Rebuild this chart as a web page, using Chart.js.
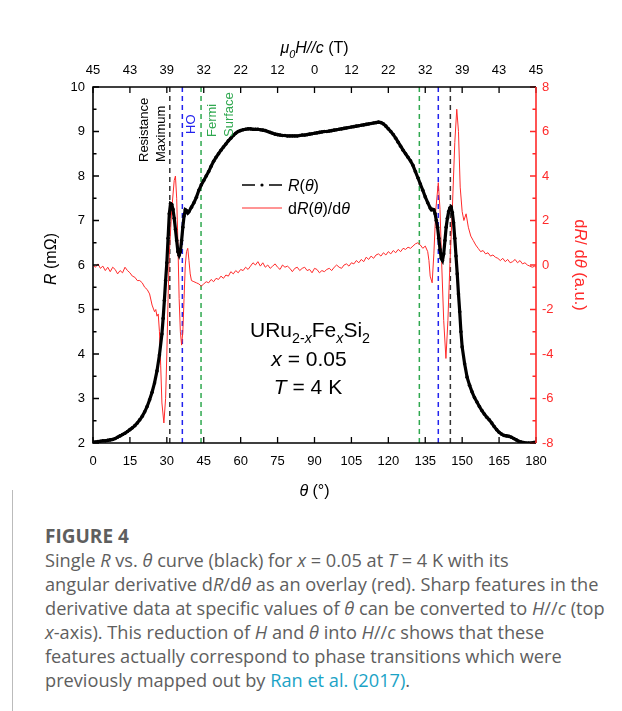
<!DOCTYPE html>
<html>
<head>
<meta charset="utf-8">
<script src="https://cdn.jsdelivr.net/npm/chart.js@4.4.1/dist/chart.umd.min.js"></script>
<style>
  body { margin: 0; background: #fff; width: 622px; height: 711px; position: relative; overflow: hidden; }
  #chart { position: absolute; left: 0; top: 0; }
  #border { position: absolute; left: 12px; top: 490px; width: 1px; height: 221px; background: #bbb; }
  #caption { position: absolute; left: 45px; top: 524px; color: #5e5e5e; font-family: "Open Sans", Lato, sans-serif;
             font-size: 18.2px; line-height: 24px; white-space: nowrap; }
  #caption .head { font-weight: bold; font-size: 19px; }
  #caption a { color: #1ba3c6; text-decoration: none; }
</style>
</head>
<body>
<canvas id="chart" width="622" height="500"></canvas>
<div id="border"></div>
<div id="caption">
  <span class="head">FIGURE 4</span><br>
  Single <i>R</i> vs. <i>θ</i> curve (black) for <i>x</i> = 0.05 at <i>T</i> = 4 K with its<br>
  angular derivative d<i>R</i>/d<i>θ</i> as an overlay (red). Sharp features in the<br>
  derivative data at specific values of <i>θ</i> can be converted to <i>H</i>//<i>c</i> (top<br>
  <i>x</i>-axis). This reduction of <i>H</i> and <i>θ</i> into <i>H</i>//<i>c</i> shows that these<br>
  features actually correspond to phase transitions which were<br>
  previously mapped out by <a>Ran et al. (2017)</a>.
</div>
<script>
// R(theta), black curve
const rTheta = [
  0, 1, 2, 3, 4, 5, 6, 7, 8, 9, 10, 11, 12, 13, 14, 15, 16, 17, 18, 19, 20, 21, 22, 23, 24, 25, 26, 27, 28, 28.5,
  29, 29.5, 30, 30.5, 31, 31.5, 32, 32.5, 33, 33.5, 34, 34.5, 35, 35.5, 36, 36.5, 37, 37.5, 38, 38.5, 39, 40,
  41, 42, 43, 44, 45, 46, 47, 48, 49, 50, 51, 52, 53, 54, 55, 56, 57, 58, 59, 60, 61, 62, 63, 64, 65, 66, 67,
  68, 69, 70, 71, 72, 73, 74, 75, 76, 77, 78, 79, 80, 81, 82, 83, 84, 85, 86, 87, 88, 89, 90, 91, 92, 93, 94,
  95, 96, 97, 98, 99, 100, 101, 102, 103, 104, 105, 106, 107, 108, 109, 110, 111, 112, 113, 114, 115, 116, 117,
  118, 119, 120, 121, 122, 123, 124, 125, 126, 127, 128, 129, 130, 131, 132, 133, 134, 135, 136, 137, 137.5,
  138, 138.5, 139, 139.5, 140, 140.5, 141, 141.5, 142, 142.5, 143, 143.5, 144, 144.5, 145, 145.5, 146, 146.5,
  147, 147.5, 148, 148.5, 149, 149.5, 150, 151, 152, 153, 154, 155, 156, 157, 158, 159, 160, 161, 162, 163,
  164, 165, 166, 167, 168, 169, 170, 171, 172, 173, 174, 175, 176, 177, 178, 179, 180
];
const rValues = [
  2.02, 2.02, 2.03, 2.04, 2.05, 2.05, 2.06, 2.07, 2.08, 2.10, 2.13, 2.16, 2.19, 2.22, 2.26, 2.30, 2.34, 2.39, 2.45, 2.52,
  2.60, 2.70, 2.82, 2.97, 3.14, 3.35, 3.62, 3.98, 4.45, 4.80,
  5.20, 5.65, 6.05, 6.60, 7.15, 7.38, 7.36, 7.25, 7.05, 6.80, 6.55, 6.30, 6.22, 6.30, 6.55, 6.85, 7.10, 7.24, 7.22, 7.17, 7.20, 7.30,
  7.40, 7.52, 7.68, 7.80, 7.90, 8.00, 8.10, 8.22, 8.33, 8.42, 8.50, 8.58, 8.65, 8.72, 8.79, 8.85, 8.91, 8.96, 9.00, 9.02, 9.04, 9.05, 9.06, 9.06, 9.05, 9.05, 9.05,
  9.04, 9.03, 9.02, 9.00, 8.98, 8.96, 8.94, 8.93, 8.92, 8.91, 8.91, 8.90, 8.90, 8.90, 8.90, 8.90, 8.91, 8.92, 8.92, 8.93, 8.94, 8.95, 8.96, 8.97, 8.98, 8.99, 9.00,
  9.00, 9.01, 9.02, 9.03, 9.04, 9.05, 9.06, 9.07, 9.08, 9.09, 9.10, 9.11, 9.12, 9.13, 9.14, 9.15, 9.16, 9.17, 9.18, 9.19, 9.20, 9.21, 9.20,
  9.17, 9.12, 9.06, 9.00, 8.93, 8.85, 8.76, 8.67, 8.58, 8.50, 8.42, 8.34, 8.24, 8.10, 7.96, 7.82, 7.68, 7.53, 7.40, 7.28, 7.24,
  7.25, 7.24, 7.15, 7.00, 6.85, 6.60, 6.35, 6.15, 6.10, 6.25, 6.55, 6.85, 7.05, 7.20, 7.28, 7.30, 7.18, 6.95,
  6.60, 6.20, 5.80, 5.35, 4.95, 4.50, 4.16, 3.78, 3.48, 3.30, 3.15, 3.02, 2.92, 2.82, 2.73, 2.65, 2.58, 2.52, 2.45, 2.37,
  2.30, 2.24, 2.20, 2.17, 2.16, 2.15, 2.13, 2.10, 2.07, 2.04, 2.02, 2.01, 2.00, 2.00, 2.00, 2.01, 2.02
];

// dR/dtheta, red curve
const dTheta = [
  0, 1, 2, 3, 4, 5, 6, 7, 8, 9, 10, 11, 12, 13, 14, 15, 16, 17, 18, 19, 20, 21, 22, 23, 24, 25, 25.5, 26, 26.5, 27, 27.5,
  28, 28.8, 29.5, 30, 30.5, 31, 32, 33, 33.5, 34, 34.5, 35, 35.5, 36, 36.5, 37, 37.5, 38, 38.5, 39, 39.5, 40,
  41, 42, 43, 44, 45, 46, 47, 48, 49, 50, 51, 52, 53, 54, 55, 56, 57, 58, 59, 60, 61, 62, 63, 64, 65, 66, 67,
  68, 69, 70, 71, 72, 73, 74, 75, 76, 77, 78, 79, 80, 81, 82, 83, 84, 85, 86, 87, 88, 89, 90, 91, 92, 93, 94,
  95, 96, 97, 98, 99, 100, 101, 102, 103, 104, 105, 106, 107, 108, 109, 110, 111, 112, 113, 114, 115, 116, 117,
  118, 119, 120, 121, 122, 123, 124, 125, 126, 127, 128, 129, 130, 131, 132, 133, 134, 135, 136, 136.5, 137, 137.8,
  138.5, 139.3, 140.3, 141, 141.7, 142.5, 143.4, 144.2, 145, 146, 147, 147.8, 148.5, 149.2, 150, 150.7, 151.6, 152.5,
  153.5, 154.5, 155.5, 156.5, 157.5, 158.5, 159.5, 160.5, 161.5, 162.5, 163.5, 164.5, 165.5, 166.5, 167.5, 168.5,
  169.5, 170.5, 171.5, 172.5, 173.5, 174.5, 175.5, 176.5, 177.5, 178.5, 179.5, 180
];
const dValues = [
  0.00, -0.10, 0.05, -0.15, -0.05, -0.25, -0.10, -0.30, -0.10, -0.20, -0.40, -0.25, -0.35, -0.10, -0.25, -0.35, -0.50, -0.55, -0.70, -0.70,
  -0.80, -1.00, -1.10, -1.30, -1.80, -2.10, -2.00, -2.30, -2.20, -3.00, -4.50,
  -6.20, -7.10, -6.00, -4.00, -1.50, 0.50, 2.50, 3.80, 4.00, 3.00, 1.00, -1.50, -3.00, -3.60, -3.00, -1.50, 0.00, 0.60, 0.75, 0.20, -0.40, -0.70,
  -0.75, -0.80, -0.85, -0.95, -0.85, -0.75, -0.80, -0.65, -0.75, -0.60, -0.65, -0.50, -0.60, -0.45, -0.50, -0.30, -0.40, -0.25, -0.35, -0.20, -0.25, -0.10, -0.20, -0.05, 0.10, 0.00, 0.15,
  -0.05, 0.10, -0.10, 0.00, -0.15, -0.05, 0.05, -0.10, -0.20, 0.00, -0.10, -0.05, -0.15, -0.30, -0.15, -0.10, -0.25, -0.15, -0.10, -0.25, -0.20, -0.35, -0.15, -0.20, -0.35, -0.25, -0.30,
  -0.20, -0.15, -0.25, -0.10, 0.00, -0.10, -0.15, 0.00, 0.05, -0.05, 0.10, 0.05, 0.20, 0.10, 0.25, 0.15, 0.35, 0.25, 0.40, 0.30, 0.45, 0.50, 0.40,
  0.55, 0.45, 0.60, 0.50, 0.65, 0.55, 0.70, 0.60, 0.75, 0.70, 0.80, 0.75, 0.85, 0.95, 1.00, 0.90, 0.75, 0.85, 0.60, 0.20, -0.50, -0.80,
  0.50, 2.50, 3.70, 2.50, 0.00, -2.50, -4.20, -2.50, 0.00, 2.50, 5.50, 7.00, 6.00, 3.50, 2.40, 2.00, 2.30, 1.70,
  1.30, 1.10, 0.90, 0.75, 0.60, 0.65, 0.50, 0.55, 0.40, 0.45, 0.35, 0.30, 0.20, 0.30, 0.15, 0.25,
  0.10, 0.15, 0.25, 0.10, 0.20, 0.05, 0.10, 0.00, -0.05, -0.10, -0.05, -0.10
];

// transition markers (theta, degrees)
const maxLines = [31.2, 145.2];
const hoLines = [36.3, 140.3];
const fermiLines = [43.9, 132.6];

// axis ticks
const xTicks = [0, 15, 30, 45, 60, 75, 90, 105, 120, 135, 150, 165, 180];
const topLabels = ['45', '43', '39', '32', '22', '12', '0', '12', '22', '32', '39', '43', '45'];
const yTicks = [2, 3, 4, 5, 6, 7, 8, 9, 10];
const y2Ticks = [-8, -6, -4, -2, 0, 2, 4, 6, 8];

const RED = '#ff2a2a';
const BLUE = '#2222ee';
const GREEN = '#2fa84f';
const FONT = '"Liberation Sans", Arial, sans-serif';

function pairs(xs, ys) {
  return xs.map((x, i) => ({ x: x, y: ys[i] }));
}
function vline(x) {
  return [{ x: x, y: 2 }, { x: x, y: 10 }];
}
function markerSet(xs, color) {
  return xs.map(x => ({
    data: vline(x), borderColor: color, borderWidth: 1.5, borderDash: [5, 4],
    pointRadius: 0, showLine: true, yAxisID: 'y', order: 5
  }));
}

// rich text: runs of [text, style] where style has i (italic) / s (subscript)
function richWidth(ctx, runs, size) {
  let w = 0;
  runs.forEach(r => {
    const st = r[1] || '';
    const sz = st.includes('s') ? size * 0.68 : size;
    ctx.font = (st.includes('i') ? 'italic ' : '') + sz + 'px ' + FONT;
    w += ctx.measureText(r[0]).width;
  });
  return w;
}
function drawRich(ctx, runs, x, y, size, color, align) {
  const w = richWidth(ctx, runs, size);
  let cx = align === 'left' ? x : x - w / 2;
  ctx.fillStyle = color;
  ctx.textBaseline = 'alphabetic';
  ctx.textAlign = 'left';
  runs.forEach(r => {
    const st = r[1] || '';
    const sub = st.includes('s');
    const sz = sub ? size * 0.68 : size;
    ctx.font = (st.includes('i') ? 'italic ' : '') + sz + 'px ' + FONT;
    ctx.fillText(r[0], cx, sub ? y + size * 0.3 : y);
    cx += ctx.measureText(r[0]).width;
  });
}
function drawRotated(ctx, runs, x, y, size, color, angle, align) {
  ctx.save();
  ctx.translate(x, y);
  ctx.rotate(angle);
  drawRich(ctx, runs, 0, 0, size, color, align);
  ctx.restore();
}

const overlay = {
  id: 'overlay',
  afterDraw(chart) {
    const ctx = chart.ctx;
    const a = chart.chartArea;
    const sx = chart.scales.x, sy = chart.scales.y, sy2 = chart.scales.y2;
    ctx.save();

    // ticks (inward)
    ctx.lineWidth = 1.3;
    ctx.strokeStyle = '#000';
    ctx.beginPath();
    xTicks.forEach(v => {
      const px = sx.getPixelForValue(v);
      ctx.moveTo(px, a.bottom); ctx.lineTo(px, a.bottom - 6);
      ctx.moveTo(px, a.top); ctx.lineTo(px, a.top + 6);
    });
    yTicks.forEach(v => {
      const py = sy.getPixelForValue(v);
      ctx.moveTo(a.left, py); ctx.lineTo(a.left + 6, py);
      if (v < 10) {
        const pm = sy.getPixelForValue(v + 0.5);
        ctx.moveTo(a.left, pm); ctx.lineTo(a.left + 3.5, pm);
      }
    });
    ctx.stroke();
    ctx.strokeStyle = RED;
    ctx.beginPath();
    y2Ticks.forEach(v => {
      const py = sy2.getPixelForValue(v);
      ctx.moveTo(a.right, py); ctx.lineTo(a.right - 6, py);
      if (v < 8) {
        const pm = sy2.getPixelForValue(v + 1);
        ctx.moveTo(a.right, pm); ctx.lineTo(a.right - 3.5, pm);
      }
    });
    ctx.stroke();

    // frame
    ctx.lineWidth = 1.6;
    ctx.strokeStyle = '#000';
    ctx.beginPath();
    ctx.moveTo(a.right, a.top); ctx.lineTo(a.left, a.top); ctx.lineTo(a.left, a.bottom); ctx.lineTo(a.right, a.bottom);
    ctx.stroke();
    ctx.strokeStyle = RED;
    ctx.beginPath();
    ctx.moveTo(a.right, a.top); ctx.lineTo(a.right, a.bottom);
    ctx.stroke();

    // axis titles
    const midX = (a.left + a.right) / 2;
    drawRich(ctx, [['μ', 'i'], ['0', 'is'], ['H//c', 'i'], [' (T)']], midX, 53, 16, '#000');
    drawRich(ctx, [['θ', 'i'], [' (°)']], midX, 496, 16, '#000');
    drawRotated(ctx, [['R', 'i'], [' (mΩ)']], 56, (a.top + a.bottom) / 2 - 6, 16, '#000', -Math.PI / 2);
    drawRotated(ctx, [['d'], ['R', 'i'], ['/ d'], ['θ', 'i'], [' (a.u.)']], 575, (a.top + a.bottom) / 2, 16.5, RED, Math.PI / 2);

    // marker labels
    const bx = sx.getPixelForValue(maxLines[0]);
    drawRotated(ctx, [['Resistance']], bx - 22, 162, 13, '#000', -Math.PI / 2, 'left');
    drawRotated(ctx, [['Maximum']], bx - 5, 162, 13, '#000', -Math.PI / 2, 'left');
    const hx = sx.getPixelForValue(hoLines[0]);
    drawRotated(ctx, [['HO']], hx + 13, 134, 13, BLUE, -Math.PI / 2, 'left');
    const gx = sx.getPixelForValue(fermiLines[0]);
    drawRotated(ctx, [['Fermi']], gx + 15, 137, 13, GREEN, -Math.PI / 2, 'left');
    drawRotated(ctx, [['Surface']], gx + 32, 137, 13, GREEN, -Math.PI / 2, 'left');

    // legend
    ctx.lineWidth = 1.3;
    ctx.strokeStyle = '#000';
    ctx.beginPath();
    ctx.moveTo(242, 185); ctx.lineTo(255, 185);
    ctx.moveTo(269, 185); ctx.lineTo(282, 185);
    ctx.stroke();
    ctx.fillStyle = '#000';
    ctx.beginPath(); ctx.arc(262, 185, 1.6, 0, Math.PI * 2); ctx.fill();
    drawRich(ctx, [['R', 'i'], ['('], ['θ', 'i'], [')']], 288, 191, 16, '#000', 'left');
    ctx.strokeStyle = RED;
    ctx.lineWidth = 1;
    ctx.beginPath(); ctx.moveTo(242, 208); ctx.lineTo(282, 208); ctx.stroke();
    drawRich(ctx, [['d'], ['R', 'i'], ['('], ['θ', 'i'], [')/d'], ['θ', 'i']], 288, 214, 16, '#000', 'left');

    // sample annotation
    drawRich(ctx, [['URu'], ['2-', 's'], ['x', 'is'], ['Fe'], ['x', 'is'], ['Si'], ['2', 's']], 310, 337, 21, '#000');
    drawRich(ctx, [['x', 'i'], [' = 0.05']], 309, 366, 21, '#000');
    drawRich(ctx, [['T', 'i'], [' = 4 K']], 308, 394, 21, '#000');

    ctx.restore();
  }
};

new Chart(document.getElementById('chart'), {
  type: 'scatter',
  data: {
    datasets: [
      {
        data: pairs(rTheta, rValues), borderColor: '#000', backgroundColor: '#000', borderWidth: 3.2,
        pointRadius: 1.8, pointBorderWidth: 0, showLine: true, yAxisID: 'y', order: 1
      },
      {
        data: pairs(dTheta, dValues), borderColor: RED, borderWidth: 1, pointRadius: 0,
        showLine: true, yAxisID: 'y2', order: 2
      },
      ...markerSet(maxLines, '#333'),
      ...markerSet(hoLines, BLUE),
      ...markerSet(fermiLines, GREEN)
    ]
  },
  options: {
    responsive: false,
    animation: false,
    devicePixelRatio: 1,
    layout: { padding: 0 },
    plugins: { legend: { display: false }, tooltip: { enabled: false } },
    scales: {
      x: {
        type: 'linear', position: 'bottom', min: 0, max: 180,
        afterFit: s => { s.height = 57; },
        grid: { display: false, drawTicks: false }, border: { display: false },
        ticks: { stepSize: 15, autoSkip: false, maxRotation: 0, padding: 11, color: '#000', font: { family: FONT, size: 13 } }
      },
      x2: {
        type: 'linear', position: 'top', min: 0, max: 180,
        afterFit: s => { s.height = 87; },
        grid: { display: false, drawTicks: false }, border: { display: false },
        ticks: {
          stepSize: 15, autoSkip: false, maxRotation: 0, padding: 9, color: '#000', font: { family: FONT, size: 13 },
          callback: v => topLabels[Math.round(v / 15)]
        }
      },
      y: {
        type: 'linear', position: 'left', min: 2, max: 10,
        afterFit: s => { s.width = 93; },
        grid: { display: false, drawTicks: false }, border: { display: false },
        ticks: { stepSize: 1, padding: 8, color: '#000', font: { family: FONT, size: 13 } }
      },
      y2: {
        type: 'linear', position: 'right', min: -8, max: 8,
        afterFit: s => { s.width = 86; },
        grid: { display: false, drawTicks: false }, border: { display: false },
        ticks: { stepSize: 2, padding: 6, color: RED, font: { family: FONT, size: 13 } }
      }
    }
  },
  plugins: [overlay]
});
</script>
</body>
</html>
